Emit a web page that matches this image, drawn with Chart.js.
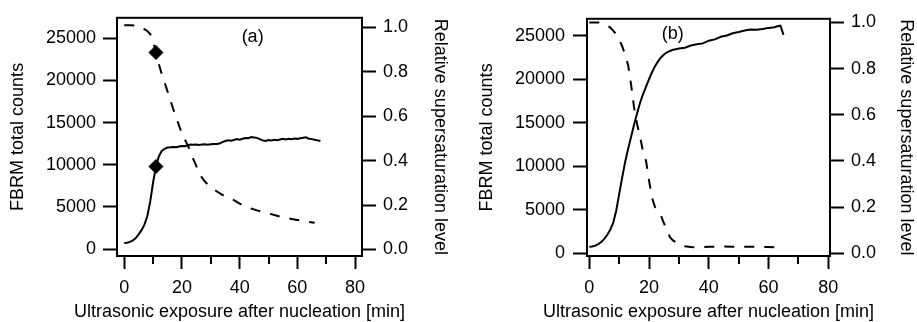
<!DOCTYPE html>
<html>
<head>
<meta charset="utf-8">
<script src="https://cdn.jsdelivr.net/npm/chart.js@4.4.1/dist/chart.umd.min.js"></script>
<style>
    html, body { margin: 0; padding: 0; background: #fff; width: 917px; height: 322px; overflow: hidden; }
    canvas { position: absolute; top: 0; }
    #grafica-a { left: 0; }
    #grafica-b { left: 459px; }
</style>
</head>
<body>
<canvas id="grafica-a" width="458" height="322"></canvas>
<canvas id="grafica-b" width="458" height="322"></canvas>
<script>
//? Panel (a): FBRM counts (solid) and supersaturation (dashed)
const aCountTime = [0, 1, 2, 3, 4, 5, 6, 7, 8, 9, 10, 11, 12, 13, 14, 15, 16, 17, 18, 19, 20, 21, 22, 23, 24, 25, 26, 27, 28, 29, 30, 31, 32, 33, 34, 35, 36, 37, 38, 39, 40, 41, 42, 43, 44, 45, 46, 47, 48, 49, 50, 51, 52, 53, 54, 55, 56, 57, 58, 59, 60, 61, 62, 63, 64, 65, 66, 67, 68]
const aCounts = [730, 770, 860, 1030, 1320, 1750, 2250, 2900, 3900, 5600, 7900, 9800, 11000, 11650, 11900, 12050, 12080, 12120, 12100, 12180, 12230, 12210, 12320, 12400, 12380, 12420, 12350, 12400, 12450, 12380, 12430, 12480, 12460, 12520, 12700, 12820, 12900, 12850, 12950, 13050, 12980, 13100, 13180, 13150, 13300, 13250, 13200, 13050, 12900, 12820, 12950, 12900, 12980, 12920, 13000, 13080, 13020, 13100, 13050, 13120, 13080, 13150, 13200, 13260, 13100, 13050, 12980, 12900, 12820]
const aSuperTime = [0, 2, 4, 5, 6, 7, 8, 9, 10, 11, 12, 13, 14, 15, 16, 17, 18, 19, 20, 21, 22, 23, 24, 25, 26, 27, 28, 29, 30, 32, 34, 36, 38, 40, 42, 44, 46, 48, 50, 52, 54, 56, 58, 60, 62, 64, 66]
const aSuper = [1.01, 1.01, 1.008, 1.004, 0.998, 0.992, 0.984, 0.97, 0.94, 0.887, 0.835, 0.79, 0.752, 0.712, 0.672, 0.632, 0.595, 0.558, 0.522, 0.495, 0.47, 0.44, 0.405, 0.375, 0.345, 0.322, 0.305, 0.292, 0.281, 0.262, 0.246, 0.233, 0.222, 0.206, 0.195, 0.184, 0.176, 0.169, 0.162, 0.155, 0.148, 0.142, 0.137, 0.133, 0.129, 0.124, 0.12]
const aMarkTime = [11]
const aMarkCounts = [9800]
const aMarkSuper = [0.887]

//? Panel (b)
const bCountTime = [0, 1, 2, 3, 4, 5, 6, 7, 8, 9, 10, 11, 12, 13, 14, 15, 16, 17, 18, 19, 20, 21, 22, 23, 24, 25, 26, 27, 28, 29, 30, 32, 34, 36, 38, 40, 42, 44, 46, 48, 50, 52, 54, 56, 58, 60, 62, 63, 64, 65]
const bCounts = [750, 780, 880, 1050, 1300, 1650, 2100, 2700, 3500, 4900, 6800, 8700, 10500, 12000, 13400, 14800, 16100, 17300, 18300, 19150, 20000, 20800, 21500, 22050, 22500, 22850, 23100, 23250, 23380, 23450, 23520, 23620, 23880, 24020, 24120, 24430, 24580, 24880, 25020, 25280, 25420, 25600, 25720, 25700, 25780, 25900, 25980, 26080, 26150, 25100]
const bSuperTime = [0, 2, 3, 4, 5, 6, 7, 8, 9, 10, 11, 12, 13, 14, 15, 16, 17, 18, 19, 20, 21, 22, 23, 24, 25, 26, 27, 28, 29, 30, 32, 34, 36, 40, 44, 48, 52, 56, 60, 65]
const bSuper = [1.0, 1.0, 1.0, 0.998, 0.993, 0.987, 0.978, 0.965, 0.948, 0.925, 0.897, 0.86, 0.815, 0.73, 0.63, 0.56, 0.505, 0.44, 0.40, 0.315, 0.24, 0.20, 0.178, 0.163, 0.13, 0.098, 0.07, 0.056, 0.048, 0.042, 0.031, 0.027, 0.026, 0.028, 0.030, 0.029, 0.028, 0.028, 0.027, 0.024]

//? ticks
const xTicks = [0, 20, 40, 60, 80]
const xMinorTicks = [10, 30, 50, 70]
const yTicks = [0, 5000, 10000, 15000, 20000, 25000]
const y1Ticks = [0, 0.2, 0.4, 0.6, 0.8, 1.0]
const xTitle = 'Ultrasonic exposure after nucleation [min]'
const yTitle = 'FBRM total counts'
const y1Title = 'Relative supersaturation level'

const fam = '"Liberation Sans", Arial, sans-serif'
const fuente = { family: fam, size: 18 }

const pares = (xs, ys) => xs.map((x, i) => ({ x: x, y: ys[i] }))
const fijar = (vals) => (s) => { s.ticks = vals.map(v => ({ value: v })) }

//? frame, minor x ticks, x title and panel letter
const marco = {
    id: 'marco',
    afterDraw(chart, args, opts) {
        const { ctx, chartArea: a, scales } = chart
        ctx.save()
        ctx.strokeStyle = '#000'
        ctx.lineWidth = 2
        ctx.strokeRect(a.left, a.top, a.right - a.left, a.bottom - a.top)
        ctx.beginPath()
        for (const t of xMinorTicks) {
            const px = Math.round(scales.x.getPixelForValue(t))
            ctx.moveTo(px, a.bottom)
            ctx.lineTo(px, a.bottom + 8)
        }
        ctx.stroke()
        ctx.fillStyle = '#000'
        ctx.font = '18px ' + fam
        ctx.textAlign = 'center'
        ctx.textBaseline = 'middle'
        ctx.fillText(xTitle, (a.left + a.right) / 2, chart.height - 10)
        ctx.fillText(opts.texto, scales.x.getPixelForValue(opts.x), scales.y.getPixelForValue(opts.y))
        ctx.restore()
    }
}

function grafica(id, p) {
    const lado = (w) => (s) => { s.width = w }
    return new Chart(document.getElementById(id), {
        type: 'line',
        data: {
            datasets: [
                {
                    data: pares(p.countTime, p.counts),
                    yAxisID: 'y',
                    borderColor: '#000',
                    borderWidth: 2,
                    pointRadius: 0,
                    tension: 0
                },
                {
                    data: pares(p.superTime, p.superVals),
                    yAxisID: 'y1',
                    borderColor: '#000',
                    borderWidth: 2,
                    borderDash: [10, 10],
                    pointRadius: 0,
                    tension: 0
                },
                {
                    data: pares(p.markTime, p.markCounts),
                    yAxisID: 'y',
                    showLine: false,
                    pointStyle: 'rectRot',
                    pointRadius: 7,
                    backgroundColor: '#000',
                    borderColor: '#000'
                },
                {
                    data: pares(p.markTime, p.markSuper),
                    yAxisID: 'y1',
                    showLine: false,
                    pointStyle: 'rectRot',
                    pointRadius: 7,
                    backgroundColor: '#000',
                    borderColor: '#000'
                }
            ]
        },
        options: {
            responsive: false,
            animation: false,
            events: [],
            layout: { padding: { top: p.top, left: 0, right: 0, bottom: 0 } },
            plugins: {
                legend: { display: false },
                tooltip: { enabled: false },
                marco: p.letra
            },
            scales: {
                x: {
                    type: 'linear',
                    position: 'bottom',
                    min: p.xMin,
                    max: p.xMax,
                    afterBuildTicks: fijar(xTicks),
                    afterFit: (s) => { s.height = 66 },
                    border: { display: false },
                    grid: { drawOnChartArea: false, drawTicks: true, tickLength: 13, tickWidth: 2, tickColor: '#000' },
                    ticks: { autoSkip: false, maxRotation: 0, padding: 8, color: '#000', font: fuente, callback: v => String(v) },
                    title: { display: false }
                },
                y: {
                    type: 'linear',
                    position: 'left',
                    min: p.yMin,
                    max: p.yMax,
                    afterBuildTicks: fijar(yTicks),
                    afterFit: lado(p.yWidth),
                    border: { display: false },
                    grid: { drawOnChartArea: false, drawTicks: true, tickLength: 14, tickWidth: 2, tickColor: '#000' },
                    ticks: { autoSkip: false, padding: p.yPad, color: '#000', font: fuente, callback: v => String(v) },
                    title: { display: true, text: yTitle, color: '#000', font: fuente, padding: { top: p.yTitlePad, bottom: 0 } }
                },
                y1: {
                    type: 'linear',
                    position: 'right',
                    min: p.y1Min,
                    max: p.y1Max,
                    afterBuildTicks: fijar(y1Ticks),
                    afterFit: lado(p.y1Width),
                    border: { display: false },
                    grid: { drawOnChartArea: false, drawTicks: true, tickLength: 14, tickWidth: 2, tickColor: '#000' },
                    ticks: { autoSkip: false, padding: 7, color: '#000', font: fuente, callback: v => v.toFixed(1) },
                    title: { display: true, text: y1Title, color: '#000', font: fuente, padding: { top: p.y1TitlePad, bottom: 0 } }
                }
            }
        },
        plugins: [marco]
    })
}

const grafA = grafica('grafica-a', {
    countTime: aCountTime, counts: aCounts,
    superTime: aSuperTime, superVals: aSuper,
    markTime: aMarkTime, markCounts: aMarkCounts, markSuper: aMarkSuper,
    top: 13, yWidth: 117, y1Width: 96,
    xMin: -2.5, xMax: 82.4,
    yMin: -814, yMax: 27440,
    y1Min: -0.0296, y1Max: 1.0433,
    yPad: 7, yTitlePad: 7, y1TitlePad: 7,
    letra: { texto: '(a)', x: 44.5, y: 25100 }
})

const grafB = grafica('grafica-b', {
    countTime: bCountTime, counts: bCounts,
    superTime: bSuperTime, superVals: bSuper,
    markTime: [], markCounts: [], markSuper: [],
    top: 17, yWidth: 128, y1Width: 87,
    xMin: -0.77, xMax: 80.57,
    yMin: -308, yMax: 26944,
    y1Min: -0.0116, y1Max: 1.0159,
    yPad: 8, yTitlePad: 17, y1TitlePad: 0,
    letra: { texto: '(b)', x: 27.9, y: 25200 }
})
</script>
</body>
</html>
